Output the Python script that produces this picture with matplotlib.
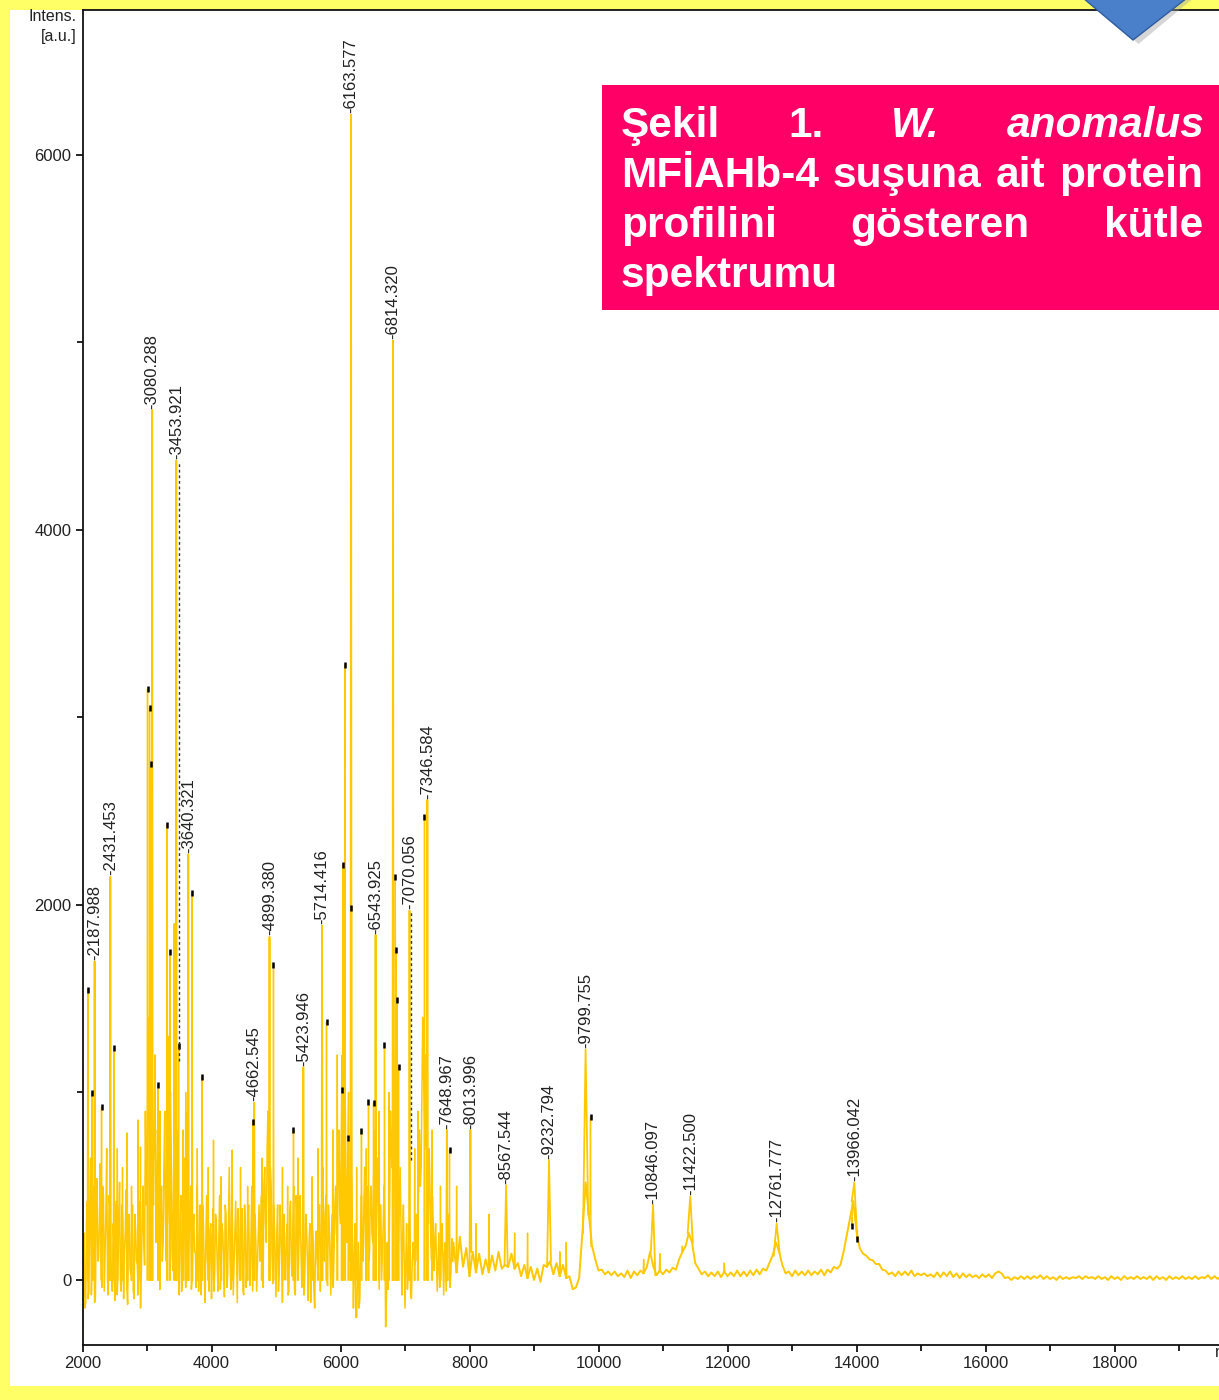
import numpy as np
import matplotlib
matplotlib.use("Agg")
import matplotlib.pyplot as plt
from matplotlib.patches import Rectangle, Polygon

# ---------------- data ----------------
# dense low-mass region: samples every 25 Da from 2000 (noise_a) and the
# in-between samples every 25 Da from 2012.5 (noise_a2)
noise_start_a, noise_step_a = 2000, 25
noise_start_a2 = 2012.5
noise_a = [
    -320, 250, -120, 420, -60, 650, 80, 380, -90, 540,
    120, 620, -40, 450, 150, 700, -80, 380, 60, 300,
    -110, 420, 40, 520, -60, 300, 160, 480, -130, 350,
    30, 400, -100, 260, 80, 420, -150, 300, 200, 900,
    600, 1400, 900, 1500, 400, 1200, 300, 700, -50, 500,
    200, 900, 100, 1300, 300, 700, 50, 1100, 250, 600,
    -80, 450, 100, 650, -40, 900, 200, 500, 0, 350,
    150, 500, -60, 400, 80, 300, -120, 450, 60, 250,
    -100, 380, 40, 300, -60, 450, 100, 250, -90, 350,
    20, 600, -50, 300, 80, 420, -120, 250, 40, 380,
    -80, 300, 60, 400, -30, 500, 150, 350, -60, 280,
    100, 450, -40, 600, 200, 900, 100, 500, -20, 300,
    -90, 400, 30, 280, -120, 350, 60, 300, -60, 420,
    20, 500, -80, 350, 100, 450, -40, 300, 80, 260,
    -110, 300, 40, 220, -150, 260, 50, 400, 150, 600,
    100, 450, -30, 300, -80, 350, 150, 500, 200, 800,
    300, 1200, 500, 900, 200, 1000, 100, 500, -150, 300,
    -200, 200, -100, 450, 100, 600, 0, 350, 150, 500,
    200, 800, 100, 650, -50, 400, 150, 500, -250, 200,
    100, 900, 600, 1200, 400, 800, 200, 600, -80, 400,
    -150, 300, 50, 250, -100, 200, 80, 350, 300, 800,
    600, 1400, 900, 1200, 500, 700, 200, 450, 50, 300,
    -60, 250, 30, 300, -80, 200, 100, 350, -40, 220,
]
noise_a2 = [
    100, -150, 300, -100, 400, -80, 500, -120, 350, 100,
    300, 80, 500, -60, 350, 0, 450, 100, -60, 200,
    250, -80, 350, 0, 400, -100, 250, -50, 300, 60,
    250, -60, 350, 100, -80, 200, 50, 500, 80, 400,
    1000, 500, 1200, 600, 900, 200, 800, 100, 350, 100,
    600, 300, 800, 400, 1000, 150, 600, 400, 800, 100,
    300, -60, 400, 200, 500, 100, 350, -50, 250, 150,
    -40, 300, 150, -80, 400, 50, 200, 100, -60, 300,
    200, -60, 350, 100, 200, -50, 300, 100, 400, -40,
    300, 100, 450, -80, 250, 150, 380, 0, 300, -60,
    400, -40, 300, 100, 250, -60, 350, 200, 100, 400,
    300, 100, 500, 300, 700, 400, 600, 150, 400, 100,
    250, -60, 400, 100, 300, 0, 250, -80, 350, 100,
    300, -60, 450, 0, 300, 150, 200, -80, 350, 100,
    200, -120, 300, -50, 200, 100, 300, -60, 450, 300,
    350, 0, 400, 100, 250, -40, 400, 250, 600, 400,
    800, 600, 1000, 400, 700, 300, 600, 200, 100, -200,
    0, -150, 300, 150, 400, 200, 500, 100, 450, 250,
    500, 350, 600, 300, 400, 0, 300, 250, -100, -50,
    400, 700, 900, 800, 600, 500, 400, 300, 200, 100,
    100, -50, 300, -80, 100, 150, 200, 100, 500, 500,
    1000, 1100, 700, 800, 300, 500, 100, 300, 200, 100,
    100, -40, 200, 100, 150, -60, 250, 150, 50, 100,
]
# high-mass baseline, one sample every 50 Da starting at 7750
noise_start_b, noise_step_b = 7750, 50
noise_b = [
    200, 40, 230, 70, 170, 20, 150, 40, 140, 30,
    110, 40, 130, 50, 150, 60, 80, 70, 140, 60,
    90, 20, 80, 10, 70, 0, 60, -10, 80, 70,
    100, 30, 90, 20, 80, 10, 20, -50, -40, 10,
    250, 520, 350, 180, 110, 50, 55, 30, 45, 25,
    45, 20, 35, 15, 50, 10, 45, 25, 50, 35,
    70, 150, 70, 25, 50, 30, 55, 40, 65, 55,
    110, 150, 180, 250, 200, 90, 60, 30, 45, 20,
    40, 20, 45, 15, 45, 20, 40, 20, 50, 20,
    45, 20, 50, 25, 55, 30, 60, 50, 90, 130,
    200, 150, 80, 35, 45, 20, 50, 25, 45, 25,
    50, 25, 45, 30, 55, 25, 55, 40, 70, 60,
    80, 150, 240, 330, 420, 260, 170, 140, 130, 110,
    105, 85, 85, 55, 50, 30, 40, 20, 45, 25,
    45, 25, 50, 20, 35, 25, 35, 20, 30, 15,
    40, 15, 40, 20, 45, 15, 35, 10, 35, 15,
    30, 15, 25, 10, 30, 15, 30, 10, 35, 45,
    35, 10, 15, 0, 15, 5, 20, 5, 20, 5,
    20, 10, 25, 5, 20, 5, 15, 0, 20, 5,
    15, 5, 15, 10, 20, 5, 20, 10, 15, 5,
    20, 5, 15, 0, 20, 5, 15, 0, 20, 5,
    15, 5, 20, 5, 15, 5, 20, 0, 20, 5,
    15, 0, 20, 5, 15, 5, 20, 5, 15, 5,
    20, 5, 15, 10, 25, 5, 20, 5, 20, 10,
]

# labelled peaks
label_mz = [2187.988, 2431.453, 3080.288, 3453.921, 3640.321, 4662.545, 4899.380,
            5423.946, 5714.416, 6163.577, 6543.925, 6814.320, 7070.056, 7346.584,
            7648.967, 8013.996, 8567.544, 9232.794, 9799.755, 10846.097, 11422.500,
            12761.777, 13966.042]
label_int = [1700, 2150, 4640, 4370, 2270, 945, 1830, 1135, 1890, 6215, 1840, 5010,
             1970, 2560, 800, 800, 505, 640, 1230, 400, 445, 300, 520]
label_text = ["2187.988", "2431.453", "3080.288", "3453.921", "3640.321", "4662.545",
              "4899.380", "5423.946", "5714.416", "6163.577", "6543.925", "6814.320",
              "7070.056", "7346.584", "7648.967", "8013.996", "8567.544", "9232.794",
              "9799.755", "10846.097", "11422.500", "12761.777", "13966.042"]
label_width = [8, 8, 8, 8, 8, 8, 8, 8, 8, 8, 8, 8, 8, 10, 10, 15, 25, 30, 40, 35, 40, 45, 40]

# unlabelled peaks that carry a small peak marker
marked_mz = [2082, 2150, 2295, 2485, 3008, 3039, 3062, 3173, 3313, 3354, 3490, 3700,
             3856, 4646, 4961, 5271, 5783, 6020, 6040, 6070, 6124, 6170, 6325, 6434,
             6512, 6682, 6850, 6865, 6880, 6900, 7302, 7690, 9876, 13930, 14010]
marked_int = [1547, 997, 920, 1237, 3150, 3050, 2750, 1040, 2427, 1750, 1250, 2064,
              1083, 843, 1680, 800, 1376, 1013, 2213, 3280, 757, 1984, 795, 950,
              944, 1253, 2150, 1760, 1493, 1136, 2470, 693, 870, 290, 220]

# other unmarked spikes
spike_mz = [2540, 2620, 2693, 2760, 2863, 2899, 3200, 3420, 3560, 3600, 3780, 3950,
            4031, 4150, 4321, 4450, 4560, 4780, 5100, 5180, 5340, 5560, 5650, 5880,
            5950, 6250, 6400, 6600, 6750, 7150, 7200, 7420, 7550, 7800, 8100, 8300,
            8700, 8900, 9400, 9500, 10700, 10950, 11300, 11950]
spike_int = [700, 600, 784, 500, 853, 709, 900, 1900, 800, 1000, 700, 600,
             746, 550, 693, 600, 500, 650, 600, 500, 650, 550, 700, 800,
             1200, 600, 700, 900, 1000, 700, 900, 800, 500, 500, 300, 350,
             250, 250, 150, 200, 110, 140, 180, 90]

# dotted label leaders (x position, top, bottom)
leader_mz = [3490, 7095]
leader_top = [4370, 1970]
leader_bottom = [1170, 640]

xticks = [2000, 4000, 6000, 8000, 10000, 12000, 14000, 16000, 18000]
yticks = [0, 2000, 4000, 6000]

# ---------------- figure ----------------
W, H = 1219, 1400
FONT = ["Liberation Sans", "DejaVu Sans"]
plt.rcParams["font.family"] = FONT
SPEC = "#FFC800"
TXT = "#222222"

fig = plt.figure(figsize=(W / 100, H / 100), dpi=100, facecolor="#FFFF66")
fig.patches.append(Rectangle((10 / W, 14 / H), 1.0, 1376 / H, transform=fig.transFigure,
                             facecolor="white", edgecolor="none", zorder=-5))

ax = fig.add_axes([82.5 / W, 55 / H, (1243.5 - 82.5) / W, (1345 - 10) / H])
ax.set_xlim(2000, 20000)
ax.set_ylim(-347, 6773)

mz_a = noise_start_a + noise_step_a * np.arange(len(noise_a))
mz_a2 = noise_start_a2 + noise_step_a * np.arange(len(noise_a2))
mz_dense = np.column_stack([mz_a, mz_a2]).ravel()
int_dense = np.column_stack([noise_a, noise_a2]).ravel()
mz_b = noise_start_b + noise_step_b * np.arange(len(noise_b))

ax.plot(mz_dense, int_dense, color=SPEC, lw=1.1, zorder=2)
ax.plot(np.r_[mz_dense[-1], mz_b], np.r_[int_dense[-1], noise_b], color=SPEC, lw=1.4,
        zorder=2)

all_mz = np.r_[mz_dense, mz_b]
all_int = np.r_[int_dense, noise_b]


def base_at(m):
    # value of the nearest recorded baseline sample
    return all_int[np.argmin(np.abs(all_mz - m))]


def spike(m, h, w, lw=1.0):
    if m > 7700:
        bl, br = base_at(m - w), base_at(m + w)
    else:
        bl = br = 0
    ax.plot([m - w, m, m + w], [bl, h, br], color=SPEC, lw=lw, zorder=3)


for m, h in zip(spike_mz, spike_int):
    spike(m, h, 7)
for m, h in zip(marked_mz, marked_int):
    spike(m, h, 7)
for m, h, w in zip(label_mz, label_int, label_width):
    spike(m, h, w, lw=1.3)

ax.plot(marked_mz, marked_int, linestyle="none", marker="|", markersize=4,
        markeredgewidth=1.8, color="black", zorder=4)

for m, t, b in zip(leader_mz, leader_top, leader_bottom):
    ax.plot([m, m], [b, t], linestyle=(0, (2, 2)), color="#333333", lw=1.0, zorder=4)

for m, h, s in zip(label_mz, label_int, label_text):
    ax.annotate("-" + s, (m, h), xytext=(0, 1), textcoords="offset points",
                rotation=90, ha="center", va="bottom", fontsize=12, color=TXT,
                zorder=5)

ax.set_xticks(xticks)
ax.set_xticklabels([str(v) for v in xticks])
ax.set_yticks(yticks)
ax.set_yticklabels([str(v) for v in yticks])
ax.set_xticks([v + 1000 for v in xticks], minor=True)
ax.set_yticks([1000, 3000, 5000], minor=True)
ax.tick_params(which="major", direction="out", length=5, width=1.2, colors="black",
               labelsize=12, labelcolor=TXT, pad=3)
ax.tick_params(which="minor", direction="out", length=4, width=1.2, colors="black")
for sp in ["left", "bottom", "top", "right"]:
    ax.spines[sp].set_linewidth(1.3)
    ax.spines[sp].set_color("#111111")

ax.text(19560, -347, "m/z", ha="left", va="top", fontsize=12, color=TXT,
        transform=ax.transData, clip_on=False)
fig.text(77 / W, 1 - 9 / H, "Intens.\n[a.u.]", ha="right", va="top", fontsize=11.5,
         color=TXT, linespacing=1.45, multialignment="right")

# ---------------- caption box ----------------
fig.patches.append(Rectangle((602 / W, (H - 310) / H), (W - 602) / W + 0.01, 225 / H,
                             transform=fig.transFigure, facecolor="#FF0066",
                             edgecolor="none", zorder=8))

fig.canvas.draw()
renderer = fig.canvas.get_renderer()
FS = 30.5


def place_line(words, styles, y_px, left_px, right_px=None):
    texts = []
    for w, st in zip(words, styles):
        t = fig.text(0, 0, w, fontsize=FS, fontweight="bold", fontstyle=st,
                     color="white", ha="left", va="baseline", zorder=9)
        texts.append(t)
    widths = [t.get_window_extent(renderer).width for t in texts]
    if right_px is None or len(words) == 1:
        gap = FS * 100 / 72 * 0.278
    else:
        gap = (right_px - left_px - sum(widths)) / (len(words) - 1)
    x = left_px
    for t, wd in zip(texts, widths):
        t.set_position((x / W, 1 - y_px / H))
        x += wd + gap


place_line(["Şekil", "1.", "W.", "anomalus"], ["normal", "normal", "italic", "italic"],
           137, 621, 1205)
place_line(["MFİAHb-4", "suşuna", "ait", "protein"], ["normal"] * 4, 187, 621, 1203)
place_line(["profilini", "gösteren", "kütle"], ["normal"] * 3, 237, 621, 1203)
place_line(["spektrumu"], ["normal"], 287, 621)

# blue triangle at the top right
fig.patches.append(Polygon([(1086 / W + 0.003, 1 + 2 / H), (1190 / W + 0.003, 1 + 2 / H),
                            (1136 / W + 0.002, 1 - 44 / H)], closed=True,
                           transform=fig.transFigure, facecolor="#999999", alpha=0.4,
                           edgecolor="none", zorder=9))
fig.patches.append(Polygon([(1083 / W, 1 + 2 / H), (1187 / W, 1 + 2 / H),
                            (1133 / W, 1 - 40 / H)], closed=True,
                           transform=fig.transFigure, facecolor="#4A7FC9",
                           edgecolor="#2F5C9E", lw=1.0, zorder=10))

fig.savefig("out.png", dpi=100, facecolor=fig.get_facecolor())
